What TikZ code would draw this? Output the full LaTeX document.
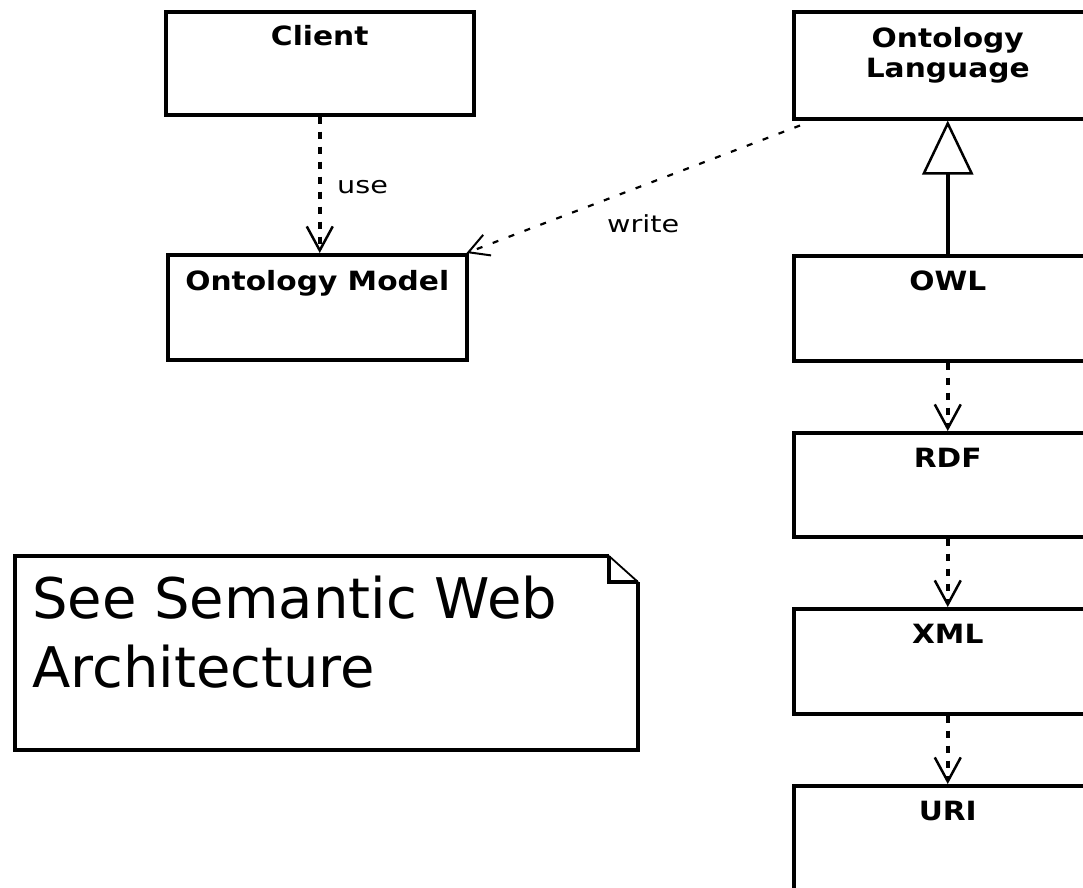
\documentclass[tikz,border=0pt]{standalone}
\usepackage{fontspec}
\usetikzlibrary{arrows.meta}
\newfontfamily\umlhead{DejaVu Sans}[FakeStretch=1.12]
\newfontfamily\umllabel{DejaVu Sans}[FakeStretch=1.22]
\newfontfamily\umlnote{DejaVu Sans}
\tikzset{
  umlbox/.style={draw, line width=3.5pt, rectangle, inner sep=0pt, anchor=north west},
  boxtitle/.style={inner sep=0pt, align=center, font=\umlhead\bfseries\fontsize{26.5}{30}\selectfont},
  edgelabel/.style={inner sep=0pt, anchor=base west, font=\umllabel\fontsize{23.5}{26}\selectfont},
  opentip/.tip={Straight Barb[length=24pt, width=26pt, line width=2.5pt]},
  smalltip/.tip={Straight Barb[length=20pt, width=22pt, line width=2pt]},
  dependency/.style={line width=3.5pt, dash pattern=on 7pt off 8pt, -opentip},
  thindependency/.style={line width=2.2pt, dash pattern=on 6pt off 11pt, -smalltip},
  generalization/.style={line width=3.5pt, -{Triangle[open, length=54pt, width=51pt, line width=2.5pt]}},
  noteline/.style={line width=3.5pt, line join=miter},
}
\begin{document}
\begin{tikzpicture}[x=1pt, y=-1pt]
  \useasboundingbox[fill=white] (0,0) rectangle (1083,887);
  \clip (0,0) rectangle (1083,887);

  % classes
  \node[umlbox, minimum width=308pt, minimum height=103pt] (client) at (164,10) {};
  \node[umlbox, minimum width=308pt, minimum height=107pt] (olang)  at (792,10) {};
  \node[umlbox, minimum width=299pt, minimum height=105pt] (om)     at (166,253) {};
  \node[umlbox, minimum width=308pt, minimum height=105pt] (owl)    at (792,254) {};
  \node[umlbox, minimum width=308pt, minimum height=104pt] (rdf)    at (792,431) {};
  \node[umlbox, minimum width=308pt, minimum height=105pt] (xml)    at (792,607) {};
  \node[umlbox, minimum width=308pt, minimum height=130pt] (uri)    at (792,784) {};

  % class names
  \node[boxtitle, anchor=base] (client-name) at ([yshift=-35pt]client.north) {Client};
  \node[boxtitle, anchor=north] (olang-name) at ([yshift=-17pt]olang.north) {Ontology\\Language};
  \node[boxtitle, anchor=base] (om-name)  at ([yshift=-37pt]om.north) {Ontology Model};
  \node[boxtitle, anchor=base] (owl-name) at ([yshift=-36pt]owl.north) {OWL};
  \node[boxtitle, anchor=base] (rdf-name) at ([yshift=-36pt]rdf.north) {RDF};
  \node[boxtitle, anchor=base] (xml-name) at ([yshift=-36pt]xml.north) {XML};
  \node[boxtitle, anchor=base] (uri-name) at ([yshift=-36pt]uri.north) {URI};

  % relations
  \draw[dependency] (client.south) -- (client.south |- om.north);
  \node[edgelabel] (use-label) at (337,193) {use};
  \draw[thindependency] ([xshift=8pt,yshift=-5pt]olang.south west) -- ([xshift=-2pt]om.north east);
  \node[edgelabel] (write-label) at (607,232) {write};
  \draw[generalization] (owl.north) -- (olang.south);
  \draw[dependency] (owl.south) -- (rdf.north);
  \draw[dependency] (rdf.south) -- (xml.north);
  \draw[dependency] (xml.south) -- (uri.north);

  % note
  \draw[noteline] (609,556) -- (15,556) -- (15,750) -- (638,750) -- (638,582);
  \draw[noteline] (609,556) -- (609,582) -- (638,582);
  \draw[line width=1.8pt] (609,556) -- (638,582);
  \node[inner sep=0pt, anchor=base west, align=left,
        font=\umlnote\fontsize{56}{69}\selectfont] (note-text) at (32,687)
        {See Semantic Web\\Architecture};
\end{tikzpicture}
\end{document}
